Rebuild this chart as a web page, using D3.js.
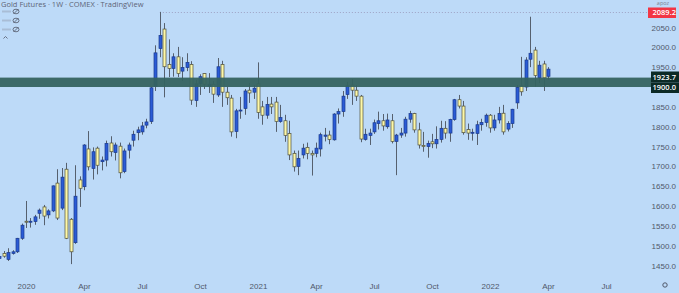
<!DOCTYPE html>
<html>
<head>
<meta charset="utf-8">
<script src="https://cdn.jsdelivr.net/npm/d3@7"></script>
<style>
  html, body { margin: 0; padding: 0; background: #bddaf8; overflow: hidden; }
  svg { display: block; font-family: "Open Sans", "Noto Sans", sans-serif; }
</style>
</head>
<body>
<div id="chart"></div>
<script>
/**
 * CONSTANTS AND GLOBALS
 * */
const width = 679,
  height = 293,
  plotRight = 650;

// weekly bars, Monday starts, from first to last week shown
const firstWeek = "2019-11-25",
  lastWeek = "2022-04-04";

// weekly OHLC (Gold Futures, COMEX)
const opens = [
  1468, 1481, 1466, 1481, 1485, 1519, 1562, 1560, 1561, 1582, 1598, 1578, 1588, 1658, 1595, 1693,
  1567, 1508, 1666, 1649, 1744, 1695, 1746, 1712, 1716, 1759, 1735, 1751, 1687, 1741, 1766, 1785,
  1787, 1804, 1813, 1901, 1997, 2046, 1957, 1947, 1976, 1940, 1949, 1957, 1866, 1909, 1934, 1902,
  1907, 1880, 1957, 1887, 1872, 1788, 1840, 1846, 1892, 1887, 1908, 1850, 1829, 1857, 1862, 1813,
  1815, 1783, 1733, 1700, 1729, 1748, 1733, 1733, 1744, 1776, 1779, 1767, 1832, 1838, 1881, 1905,
  1892, 1877, 1768, 1778, 1787, 1808, 1815, 1800, 1815, 1763, 1779, 1784, 1819, 1833, 1792, 1753,
  1750, 1762, 1757, 1768, 1796, 1784, 1818, 1868, 1852, 1793, 1784, 1783, 1805, 1811, 1829, 1797,
  1817, 1834, 1794, 1808, 1860, 1903, 1900, 1970, 1993, 1923, 1958, 1927
];
const highs = [
  1478, 1487, 1494, 1489, 1520, 1556, 1613, 1570, 1578, 1594, 1603, 1592, 1652, 1693, 1696, 1709,
  1570, 1703, 1675, 1756, 1789, 1748, 1750, 1725, 1765, 1776, 1760, 1760, 1745, 1760, 1790, 1800,
  1812, 1820, 1900, 2005, 2089.2, 2061, 2020, 1985, 2001, 1975, 1985, 1965, 1918, 1932, 1935, 1935,
  1915, 1973, 1966, 1900, 1880, 1845, 1875, 1895, 1910, 1905, 1962, 1865, 1875, 1875, 1875, 1855,
  1830, 1815, 1740, 1740, 1757, 1760, 1740, 1760, 1785, 1797, 1790, 1834, 1846, 1890, 1913, 1920,
  1905, 1880, 1795, 1795, 1818, 1838, 1832, 1833, 1832, 1782, 1797, 1825, 1840, 1835, 1810, 1787,
  1765, 1782, 1801, 1815, 1814, 1820, 1870, 1880, 1865, 1808, 1795, 1815, 1820, 1833, 1832, 1830,
  1850, 1855, 1814, 1845, 1905, 1976, 1975, 2077, 2001, 1966, 1966, 1950
];
const lows = [
  1460, 1470, 1462, 1478, 1482, 1515, 1545, 1546, 1553, 1568, 1552, 1569, 1585, 1565, 1590, 1517,
  1454, 1505, 1598, 1640, 1690, 1667, 1680, 1690, 1700, 1725, 1715, 1670, 1683, 1720, 1750, 1766,
  1780, 1796, 1807, 1890, 1975, 1874, 1925, 1926, 1925, 1915, 1940, 1855, 1850, 1880, 1895, 1885,
  1860, 1875, 1850, 1855, 1775, 1771, 1820, 1830, 1860, 1870, 1820, 1805, 1820, 1832, 1787, 1810,
  1762, 1716, 1687, 1678, 1720, 1718, 1677, 1723, 1725, 1763, 1756, 1765, 1808, 1825, 1870, 1855,
  1865, 1761, 1765, 1754, 1782, 1793, 1790, 1795, 1758, 1678, 1772, 1775, 1810, 1785, 1745, 1737,
  1722, 1746, 1745, 1760, 1770, 1762, 1815, 1846, 1780, 1767, 1765, 1754, 1790, 1800, 1785, 1790,
  1808, 1780, 1788, 1797, 1845, 1878, 1890, 1950, 1901, 1910, 1890, 1918
];
const closes = [
  1473, 1474, 1483, 1485, 1519, 1552, 1560, 1562, 1573, 1590, 1575, 1588, 1651, 1570, 1673, 1519,
  1485, 1625, 1645, 1754, 1699, 1737, 1703, 1716, 1758, 1737, 1754, 1684, 1739, 1754, 1781, 1792,
  1802, 1812, 1898, 1986, 2030, 1951, 1947, 1976, 1934, 1949, 1962, 1867, 1908, 1926, 1907, 1907,
  1882, 1951, 1887, 1873, 1787, 1840, 1842, 1890, 1885, 1897, 1836, 1829, 1856, 1850, 1813, 1823,
  1778, 1729, 1699, 1720, 1746, 1733, 1729, 1746, 1780, 1779, 1768, 1832, 1838, 1877, 1903, 1892,
  1877, 1769, 1781, 1784, 1810, 1815, 1802, 1817, 1763, 1779, 1784, 1819, 1833, 1792, 1754, 1750,
  1758, 1757, 1768, 1796, 1784, 1818, 1868, 1852, 1785, 1784, 1786, 1805, 1811, 1829, 1797, 1817,
  1833, 1787, 1808, 1844, 1899, 1888, 1968, 1985, 1929, 1955, 1923, 1945
];

// time axis labels (first weekly bar of each quarter)
const timeTicks = ["2020-01-06", "2020-04-06", "2020-07-06", "2020-10-05", "2021-01-04", "2021-04-05",
  "2021-07-05", "2021-10-04", "2022-01-03", "2022-04-04", "2022-07-04"];
const timeLabels = ["2020", "Apr", "Jul", "Oct", "2021", "Apr", "Jul", "Oct", "2022", "Apr", "Jul"];

// price axis labels
const priceTicks = [1450, 1500, 1550, 1600, 1650, 1700, 1750, 1800, 1850, 1950, 2000, 2050];

// support zone and the high line
const zoneLow = 1900.0,
  zoneHigh = 1923.7,
  highLevel = 2089.2,
  highStart = "2020-08-03";

const legendText = "Gold Futures \u00b7 1W \u00b7 COMEX \u00b7 TradingView";

/**
 * DRAW
 * */
const parse = d3.utcParse("%Y-%m-%d");
const weeks = d3.utcMonday.range(parse(firstWeek), d3.utcDay.offset(parse(lastWeek), 1));
const bars = weeks.map((d, i) => ({
  date: d, open: opens[i], high: highs[i], low: lows[i], close: closes[i]
}));

const x = d3.scaleUtc()
  .domain([parse("2020-01-06"), parse("2022-04-04")])
  .range([26, 548]);

const y = d3.scaleLinear()
  .domain([1450, 2000])
  .range([265.7, 47.3]);

const svg = d3.select("#chart")
  .append("svg")
  .attr("width", width)
  .attr("height", height);

svg.append("rect")
  .attr("width", width)
  .attr("height", height)
  .attr("fill", "#bddaf8");

// dotted line at the high
svg.append("line")
  .attr("x1", x(parse(highStart)))
  .attr("x2", plotRight - 2)
  .attr("y1", Math.round(y(highLevel)) + 0.5)
  .attr("y2", Math.round(y(highLevel)) + 0.5)
  .attr("stroke", "#9ea3c4")
  .attr("stroke-width", 1)
  .attr("stroke-dasharray", "1,2");

// candles
const candles = svg.append("g")
  .selectAll("g.candle")
  .data(bars)
  .join("g")
  .attr("class", "candle");

candles.append("line")
  .attr("x1", d => Math.round(x(d.date)) + 0.5)
  .attr("x2", d => Math.round(x(d.date)) + 0.5)
  .attr("y1", d => y(d.high))
  .attr("y2", d => y(d.low))
  .attr("stroke", "#56606e")
  .attr("stroke-width", 1);

candles.append("rect")
  .attr("x", d => Math.round(x(d.date)) - 1)
  .attr("width", 3)
  .attr("y", d => y(Math.max(d.open, d.close)))
  .attr("height", d => Math.max(1, Math.abs(y(d.open) - y(d.close))))
  .attr("fill", d => d.close >= d.open ? "#2a5bd6" : "#fdf8a8")
  .attr("stroke", d => d.close >= d.open ? "#1b3a8c" : "#4f4f3a")
  .attr("stroke-width", 0.7);

// support zone
svg.append("rect")
  .attr("x", 0)
  .attr("width", plotRight + 1)
  .attr("y", y(zoneHigh))
  .attr("height", y(zoneLow) - y(zoneHigh))
  .attr("fill", "#356360")
  .attr("opacity", 0.95);

// time axis
const xAxis = d3.axisBottom(x)
  .tickValues(timeTicks.map(parse))
  .tickFormat((d, i) => timeLabels[i])
  .tickSize(0)
  .tickPadding(6);

svg.append("g")
  .attr("transform", "translate(0,277)")
  .call(xAxis)
  .call(g => g.select(".domain").remove())
  .selectAll("text")
  .attr("fill", "#50586a")
  .style("font-size", "8px");

// price axis
const yAxis = d3.axisRight(y)
  .tickValues(priceTicks)
  .tickFormat(d3.format(".1f"))
  .tickSize(0)
  .tickPadding(0);

svg.append("g")
  .attr("transform", `translate(${plotRight + 1},0)`)
  .call(yAxis)
  .call(g => g.select(".domain").remove())
  .selectAll("text")
  .attr("x", 25)
  .attr("text-anchor", "end")
  .attr("fill", "#50586a")
  .style("font-size", "8px");

// price labels on the axis
svg.append("text")
  .attr("x", 663)
  .attr("y", 5)
  .attr("text-anchor", "middle")
  .attr("fill", "#7a8090")
  .style("font-size", "5.5px")
  .text("apoz");

const axisLabels = [
  { value: highLevel, fill: "#f23645", x0: 648, x1: 676, top: 7.5, bottom: 18 },
  { value: zoneHigh, fill: "#0c2a26", x0: 651, x1: 679, top: 71.5, bottom: 82.3 },
  { value: zoneLow, fill: "#0c2a26", x0: 651, x1: 679, top: 82.3, bottom: 93 }
];

const labelG = svg.append("g")
  .selectAll("g")
  .data(axisLabels)
  .join("g");

labelG.append("rect")
  .attr("x", d => d.x0)
  .attr("width", d => d.x1 - d.x0)
  .attr("y", d => d.top)
  .attr("height", d => d.bottom - d.top)
  .attr("fill", d => d.fill);

labelG.append("text")
  .attr("x", 676)
  .attr("y", d => (d.top + d.bottom) / 2)
  .attr("dy", "0.35em")
  .attr("text-anchor", "end")
  .attr("fill", "#ffffff")
  .style("font-size", "7.5px")
  .style("font-weight", 600)
  .text(d => d3.format(".1f")(d.value));

// gear icon in the corner
svg.append("circle")
  .attr("cx", 665)
  .attr("cy", 285)
  .attr("r", 2.2)
  .attr("fill", "none")
  .attr("stroke", "#50586a")
  .attr("stroke-width", 1);

// legend
svg.append("text")
  .attr("x", 1)
  .attr("y", 7)
  .attr("fill", "#5d6577")
  .style("font-size", "7.5px")
  .text(legendText);

const legendRows = [11.5, 20.5, 29.5];
const rows = svg.append("g")
  .selectAll("g")
  .data(legendRows)
  .join("g")
  .attr("transform", d => `translate(0,${d})`);

rows.append("rect")
  .attr("x", 2)
  .attr("y", -1)
  .attr("width", 9)
  .attr("height", 2)
  .attr("fill", "#a9bdd6");

rows.append("ellipse")
  .attr("cx", 16)
  .attr("cy", 0)
  .attr("rx", 3)
  .attr("ry", 2.3)
  .attr("fill", "none")
  .attr("stroke", "#5d6577")
  .attr("stroke-width", 0.9);

rows.append("line")
  .attr("x1", 13.5)
  .attr("x2", 18.5)
  .attr("y1", 2.5)
  .attr("y2", -2.5)
  .attr("stroke", "#5d6577")
  .attr("stroke-width", 0.9);

svg.append("path")
  .attr("d", "M3.5,38.5 L5.5,36.5 L7.5,38.5")
  .attr("fill", "none")
  .attr("stroke", "#5d6577")
  .attr("stroke-width", 0.9);
</script>
</body>
</html>
